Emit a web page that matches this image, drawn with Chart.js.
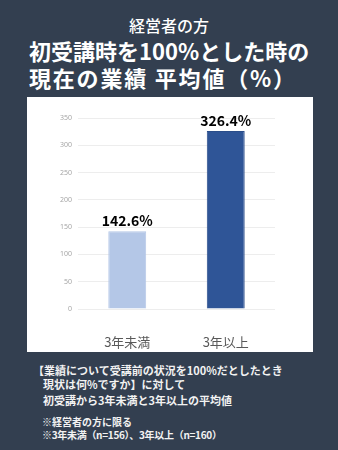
<!DOCTYPE html>
<html>
<head>
<meta charset="utf-8">
<script src="https://cdn.jsdelivr.net/npm/chart.js@4/dist/chart.umd.min.js"></script>
<style>
  html, body { margin: 0; padding: 0; }
  body { width: 338px; height: 450px; background: #333f50; position: relative; overflow: hidden;
         font-family: "Noto Sans CJK JP", "Noto Sans", sans-serif; color: #ffffff; }
  .t { position: absolute; white-space: nowrap; line-height: 1; }
  #sub { left: 0; width: 338px; text-align: center; top: 17px; font-size: 16px; font-weight: 500; }
  #h1 { left: 29px; top: 39px; font-size: 22px; font-weight: 700; }
  #h2 { left: 29px; top: 66px; font-size: 22px; font-weight: 700; letter-spacing: 1.8px; }
  #panel { position: absolute; left: 27px; top: 97px; width: 286px; height: 255px; background: #ffffff; }
  .n { font-size: 11px; font-weight: 700; color: #f2f2f2; }
  .s { font-size: 10px; font-weight: 700; color: #f2f2f2; }
</style>
</head>
<body>
<div class="t" id="sub">経営者の方</div>
<div class="t" id="h1">初受講時を100%とした時の</div>
<div class="t" id="h2">現在の業績 平均値（%）</div>
<div id="panel"><canvas id="c" width="286" height="255"></canvas></div>
<div class="t n" style="left:33px;top:365px;">【業績について受講前の状況を100%だとしたとき</div>
<div class="t n" style="left:43px;top:379px;">現状は何%ですか】に対して</div>
<div class="t n" style="left:43px;top:395px;">初受講から3年未満と3年以上の平均値</div>
<div class="t s" style="left:42px;top:417px;">※経営者の方に限る</div>
<div class="t s" style="left:42px;top:430px;letter-spacing:-0.3px;">※3年未満（n=156）、3年以上（n=160）</div>
<script>
const categories = ["3年未満", "3年以上"];
const values = [142.6, 326.4];
const barColors = ["#b4c7e7", "#2f5597"];
const yTicks = [0, 50, 100, 150, 200, 250, 300, 350];

// Writes each bar's value with a % sign just above the bar top
const valueLabels = {
  id: "valueLabels",
  afterDatasetsDraw(chart) {
    const ctx = chart.ctx;
    const meta = chart.getDatasetMeta(0);
    ctx.save();
    ctx.font = "bold 14px 'Noto Sans CJK JP', sans-serif";
    ctx.fillStyle = "#000000";
    ctx.textAlign = "center";
    ctx.textBaseline = "bottom";
    meta.data.forEach((bar, i) => {
      ctx.fillText(values[i].toFixed(1) + "%", bar.x, bar.y - 3);
    });
    ctx.restore();
  }
};

new Chart(document.getElementById("c"), {
  type: "bar",
  data: {
    labels: categories,
    datasets: [{
      data: values,
      backgroundColor: barColors,
      borderColor: ["#b4c7e7", "#2a4d8a"],
      borderWidth: 1,
      categoryPercentage: 0.77,
      barPercentage: 0.5
    }]
  },
  options: {
    responsive: false,
    animation: false,
    devicePixelRatio: 1,
    layout: { padding: { left: 0, right: 38, top: 21, bottom: 0 } },
    plugins: { legend: { display: false }, tooltip: { enabled: false } },
    scales: {
      x: {
        grid: { display: false },
        border: { display: false },
        ticks: { color: "#595959", font: { size: 13, family: "'Noto Sans CJK JP', sans-serif" }, padding: 17 },
        afterFit(s) { s.height = 43; }
      },
      y: {
        min: 0,
        max: 350,
        afterBuildTicks(s) { s.ticks = yTicks.map(v => ({ value: v })); },
        grid: { color: "#ededed", lineWidth: 1, drawTicks: false },
        border: { display: false },
        ticks: { color: "#a6a6a6", font: { size: 7, family: "'Noto Sans', sans-serif" }, padding: 6 },
        afterFit(s) { s.width = 51; }
      }
    }
  },
  plugins: [valueLabels]
});
</script>
</body>
</html>
